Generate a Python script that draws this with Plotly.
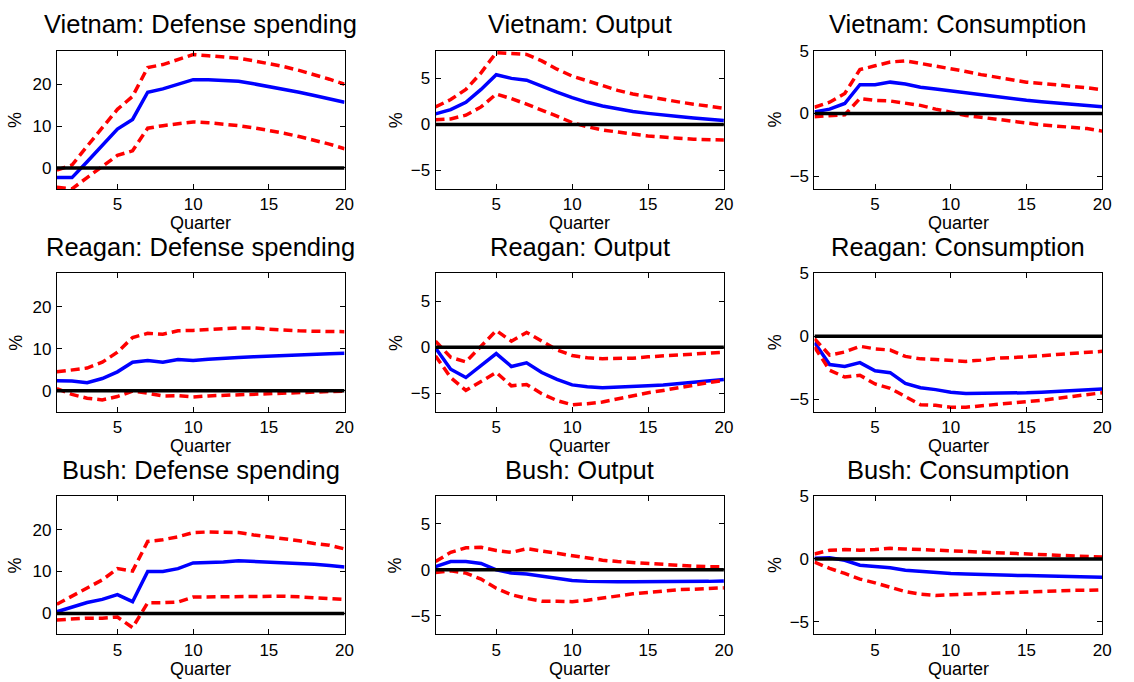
import plotly.graph_objects as go

quarters = list(range(1, 21))

episodes = ["Vietnam", "Reagan", "Bush"]
variables = ["Defense spending", "Output", "Consumption"]

# Impulse responses (%) with lower / upper bands, by episode and variable
vietnam_defense_irf = [-2.3, -2.3, 1.5, 5.4, 9.3, 11.6, 18.1, 18.9, 20.0, 21.1, 21.1, 21.0, 20.7, 20.1, 19.5, 18.8, 18.1, 17.3, 16.5, 15.7]
vietnam_defense_hi = [-0.5, 0.7, 5.2, 9.6, 14.0, 17.1, 24.0, 24.7, 26.0, 27.1, 26.8, 26.6, 26.2, 25.6, 25.0, 24.2, 23.3, 22.3, 21.2, 20.0]
vietnam_defense_lo = [-4.6, -5.0, -2.3, 0.4, 3.0, 4.1, 9.5, 10.1, 10.5, 11.0, 10.8, 10.5, 10.1, 9.6, 9.0, 8.3, 7.5, 6.7, 5.7, 4.6]

vietnam_output_irf = [1.15, 1.6, 2.4, 3.8, 5.4, 5.0, 4.8, 4.1, 3.5, 2.9, 2.4, 2.0, 1.7, 1.4, 1.2, 1.0, 0.85, 0.7, 0.55, 0.43]
vietnam_output_hi = [1.9, 2.7, 3.8, 5.6, 7.8, 7.7, 7.6, 6.9, 6.0, 5.25, 4.7, 4.2, 3.7, 3.3, 3.0, 2.7, 2.45, 2.2, 2.0, 1.75]
vietnam_output_lo = [0.5, 0.6, 1.0, 1.9, 3.3, 2.8, 2.2, 1.6, 0.9, 0.2, -0.25, -0.6, -0.85, -1.05, -1.25, -1.4, -1.5, -1.6, -1.65, -1.7]

vietnam_cons_irf = [0.13, 0.35, 0.8, 2.3, 2.3, 2.5, 2.35, 2.1, 1.95, 1.8, 1.6, 1.45, 1.3, 1.18, 1.05, 0.93, 0.82, 0.72, 0.62, 0.55]
vietnam_cons_hi = [0.5, 0.9, 1.6, 3.5, 3.8, 4.1, 4.2, 4.0, 3.8, 3.6, 3.35, 3.1, 2.9, 2.7, 2.5, 2.4, 2.3, 2.15, 2.05, 1.9]
vietnam_cons_lo = [-0.25, -0.2, -0.1, 1.2, 1.05, 1.0, 0.85, 0.65, 0.35, 0.1, -0.15, -0.3, -0.45, -0.6, -0.8, -0.9, -1.0, -1.1, -1.2, -1.4]

reagan_defense_irf = [2.35, 2.3, 1.9, 2.9, 4.5, 6.8, 7.2, 6.8, 7.45, 7.2, 7.5, 7.8, 7.9, 8.1, 8.2, 8.35, 8.5, 8.65, 8.8, 8.95]
reagan_defense_hi = [4.5, 4.9, 5.4, 6.8, 9.2, 12.7, 13.7, 13.5, 14.3, 14.4, 14.7, 14.8, 15.0, 15.0, 14.7, 14.4, 14.3, 14.2, 14.1, 14.1]
reagan_defense_lo = [0.5, -0.9, -1.8, -2.2, -1.4, -0.1, -0.6, -1.25, -1.2, -1.5, -1.25, -1.1, -1.0, -0.8, -0.6, -0.5, -0.4, -0.3, -0.2, -0.1]

reagan_output_irf = [-0.1, -2.4, -3.3, -2.0, -0.7, -2.1, -1.7, -2.75, -3.5, -4.1, -4.3, -4.4, -4.35, -4.3, -4.2, -4.1, -3.95, -3.85, -3.7, -3.5]
reagan_output_hi = [0.65, -1.1, -1.6, 0.1, 1.8, 0.65, 1.6, 0.65, -0.3, -0.9, -1.15, -1.25, -1.25, -1.2, -1.05, -0.95, -0.85, -0.75, -0.65, -0.55]
reagan_output_lo = [-0.95, -3.3, -4.7, -3.75, -2.75, -4.2, -4.05, -5.05, -5.8, -6.25, -6.15, -5.95, -5.6, -5.25, -4.95, -4.7, -4.4, -4.1, -3.85, -3.6]

reagan_cons_irf = [-0.5, -2.25, -2.4, -2.1, -2.75, -2.9, -3.75, -4.1, -4.25, -4.45, -4.55, -4.55, -4.55, -4.5, -4.5, -4.45, -4.4, -4.35, -4.3, -4.2]
reagan_cons_hi = [-0.2, -1.5, -1.25, -0.8, -1.0, -1.1, -1.6, -1.8, -1.85, -1.9, -2.0, -1.9, -1.75, -1.7, -1.65, -1.55, -1.45, -1.35, -1.3, -1.2]
reagan_cons_lo = [-0.85, -2.7, -3.25, -3.1, -3.8, -4.15, -4.8, -5.45, -5.5, -5.65, -5.65, -5.55, -5.45, -5.35, -5.25, -5.1, -4.95, -4.8, -4.65, -4.5]

bush_defense_irf = [0.4, 1.55, 2.6, 3.35, 4.5, 2.8, 10.0, 10.0, 10.7, 12.05, 12.1, 12.3, 12.6, 12.45, 12.35, 12.2, 12.0, 11.75, 11.45, 11.1]
bush_defense_hi = [2.2, 4.1, 6.0, 8.0, 10.7, 10.1, 17.2, 17.6, 18.3, 19.3, 19.45, 19.45, 19.3, 18.75, 18.3, 17.9, 17.35, 16.7, 16.3, 15.4]
bush_defense_lo = [-1.55, -1.3, -1.15, -1.15, -0.85, -3.4, 2.55, 2.55, 2.7, 3.9, 3.95, 4.05, 4.1, 4.1, 4.05, 4.1, 3.95, 3.8, 3.65, 3.35]

bush_output_irf = [0.35, 0.9, 0.9, 0.7, 0.0, -0.35, -0.45, -0.7, -0.9, -1.15, -1.25, -1.3, -1.3, -1.3, -1.3, -1.3, -1.25, -1.25, -1.25, -1.2]
bush_output_hi = [0.9, 1.9, 2.4, 2.45, 2.1, 1.9, 2.3, 2.05, 1.8, 1.5, 1.25, 1.05, 0.9, 0.8, 0.65, 0.55, 0.45, 0.4, 0.35, 0.35]
bush_output_lo = [-0.3, -0.1, -0.35, -1.0, -2.0, -2.7, -3.1, -3.4, -3.4, -3.45, -3.3, -3.05, -2.8, -2.6, -2.45, -2.3, -2.15, -2.1, -2.0, -1.95]

bush_cons_irf = [0.05, 0.1, -0.1, -0.5, -0.6, -0.7, -0.9, -1.0, -1.1, -1.15, -1.2, -1.25, -1.28, -1.3, -1.32, -1.35, -1.37, -1.4, -1.42, -1.45]
bush_cons_hi = [0.4, 0.7, 0.75, 0.7, 0.75, 0.85, 0.8, 0.75, 0.7, 0.65, 0.6, 0.5, 0.45, 0.4, 0.35, 0.3, 0.25, 0.2, 0.15, 0.15]
bush_cons_lo = [-0.25, -0.75, -1.15, -1.6, -1.9, -2.25, -2.6, -2.8, -2.9, -2.85, -2.8, -2.8, -2.75, -2.7, -2.65, -2.6, -2.55, -2.5, -2.5, -2.45]

zero_line = [0] * 20

panels = [
    [(vietnam_defense_irf, vietnam_defense_lo, vietnam_defense_hi),
     (vietnam_output_irf, vietnam_output_lo, vietnam_output_hi),
     (vietnam_cons_irf, vietnam_cons_lo, vietnam_cons_hi)],
    [(reagan_defense_irf, reagan_defense_lo, reagan_defense_hi),
     (reagan_output_irf, reagan_output_lo, reagan_output_hi),
     (reagan_cons_irf, reagan_cons_lo, reagan_cons_hi)],
    [(bush_defense_irf, bush_defense_lo, bush_defense_hi),
     (bush_output_irf, bush_output_lo, bush_output_hi),
     (bush_cons_irf, bush_cons_lo, bush_cons_hi)],
]

y_ranges = [[-5, 28], [-7, 8], [-6, 5]]
y_ticks = [[0, 10, 20], [-5, 0, 5], [-5, 0, 5]]
x_ticks = [5, 10, 15, 20]

# Layout geometry in pixels
W, H = 1134, 682
col_px = [(57.3, 347.3), (439.0, 729.7), (821.0, 1111.0)]
row_px = [(42.3, 182.3), (268.0, 408.0), (493.7, 633.7)]
ylabel_offset = [42.0, 40.5, 40.0]

FONT = "Liberation Sans, Arial, Helvetica, sans-serif"
DASH = "9px,5px"

fig = go.Figure()
layout = {}
annotations = []

for r in range(3):
    for c in range(3):
        k = r * 3 + c + 1
        xa = "x" if k == 1 else f"x{k}"
        ya = "y" if k == 1 else f"y{k}"
        irf, lo, hi = panels[r][c]
        for series, color, dash in [(irf, "#0000ff", "solid"),
                                    (lo, "#ff0000", DASH),
                                    (hi, "#ff0000", DASH),
                                    (zero_line, "#000000", "solid")]:
            fig.add_trace(go.Scatter(
                x=quarters, y=series, mode="lines",
                line=dict(color=color, width=3.5, dash=dash),
                xaxis=xa, yaxis=ya, showlegend=False, hoverinfo="skip"))

        x0, x1 = col_px[c]
        y0, y1 = row_px[r]
        axis_common = dict(
            showgrid=False, zeroline=False, showline=True,
            linecolor="black", linewidth=1, mirror="allticks",
            ticks="inside", ticklen=5, tickwidth=1, tickcolor="black",
            tickfont=dict(family=FONT, size=17, color="black"),
        )
        layout["xaxis" if k == 1 else f"xaxis{k}"] = dict(
            axis_common, domain=[x0 / W, x1 / W], range=[1, 20],
            tickvals=x_ticks, anchor=ya, ticklabelstandoff=0)
        layout["yaxis" if k == 1 else f"yaxis{k}"] = dict(
            axis_common, domain=[1 - y1 / H, 1 - y0 / H], range=y_ranges[c],
            tickvals=y_ticks[c], anchor=xa, ticklabelstandoff=1)

        cx = (x0 + x1) / 2
        annotations.append(dict(
            text=f"{episodes[r]}: {variables[c]}", xref="paper", yref="paper",
            x=cx / W, y=1 - (y0 - 27) / H, xanchor="center", yanchor="middle",
            showarrow=False, font=dict(family=FONT, size=25.5, color="black")))
        annotations.append(dict(
            text="Quarter", xref="paper", yref="paper",
            x=cx / W, y=1 - (y1 + 34.8) / H, xanchor="center", yanchor="middle",
            showarrow=False, font=dict(family=FONT, size=18, color="black")))
        annotations.append(dict(
            text="%", xref="paper", yref="paper", textangle=-90,
            x=(x0 - ylabel_offset[c]) / W, y=1 - ((y0 + y1) / 2) / H,
            xanchor="center", yanchor="middle",
            showarrow=False, font=dict(family=FONT, size=18, color="black")))

fig.update_layout(
    width=W, height=H, margin=dict(l=0, r=0, t=0, b=0),
    paper_bgcolor="white", plot_bgcolor="white",
    showlegend=False, annotations=annotations,
    font=dict(family=FONT, color="black"),
    **layout)

fig.write_html("out.html")
